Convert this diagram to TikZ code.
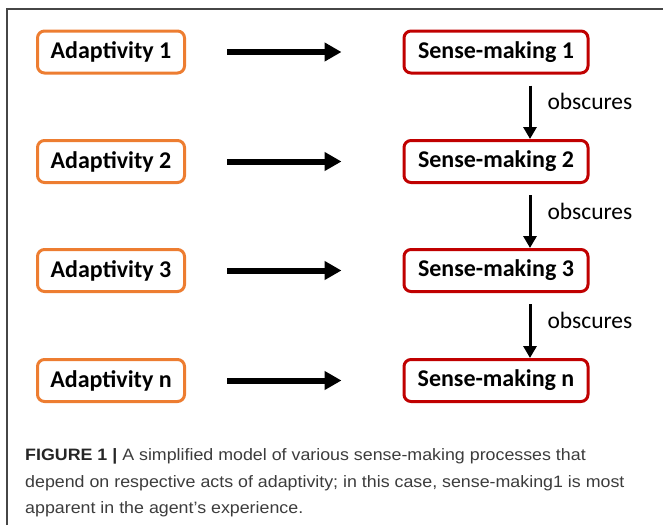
\documentclass[tikz,border=0pt]{standalone}
\usepackage{fontspec}
\setmainfont{Carlito}
\newfontfamily\capfont[FakeStretch=1.08]{Liberation Sans}
\usetikzlibrary{arrows.meta,positioning}
\definecolor{adaorange}{RGB}{237,125,49}
\definecolor{sensered}{RGB}{192,0,0}
\definecolor{capgray}{RGB}{60,60,60}
\definecolor{framegray}{RGB}{70,70,70}

\begin{document}
\begin{tikzpicture}[x=1pt,y=-1pt,
  adabox/.style={draw=adaorange,line width=3pt,rounded corners=7pt,minimum width=147pt,minimum height=42pt,inner sep=0pt,font=\bfseries\fontsize{24}{28}\selectfont},
  sensebox/.style={adabox,draw=sensered,minimum width=184pt},
  hor/.style={line width=6pt,-{Triangle[length=17pt,width=18pt]},shorten <=41pt,shorten >=61pt},
  obs/.style={line width=3pt,-{Triangle[length=12pt,width=13pt]},shorten <=11pt},
  obslabel/.style={midway,anchor=base west,xshift=16pt,yshift=-3pt,inner sep=0pt,font=\fontsize{23.5}{28}\selectfont}]
\useasboundingbox (0,0) rectangle (663,525);
\draw[line width=1.2pt,framegray] (7,525) -- (7,9) -- (663,9);

\node[adabox] (a1) at (111,52) {Adaptivity 1};
\node[adabox] (a2) at (111,161.5) {Adaptivity 2};
\node[adabox] (a3) at (111,270.5) {Adaptivity 3};
\node[adabox] (an) at (111,380.5) {Adaptivity n};

\node[sensebox] (s1) at (496,52) {Sense-making 1};
\node[sensebox] (s2) at (496,161.5) {Sense-making 2};
\node[sensebox] (s3) at (496,270.5) {Sense-making 3};
\node[sensebox] (sn) at (496,380.5) {Sense-making n};

\draw[hor] (a1) -- (s1);
\draw[hor] (a2) -- (s2);
\draw[hor] (a3) -- (s3);
\draw[hor] (an) -- (sn);

\draw[obs] ([xshift=34pt]s1.south) -- node[obslabel] {obscures} ([xshift=34pt]s2.north);
\draw[obs] ([xshift=34pt]s2.south) -- node[obslabel] {obscures} ([xshift=34pt]s3.north);
\draw[obs] ([xshift=34pt]s3.south) -- node[obslabel] {obscures} ([xshift=34pt]sn.north);

\node[anchor=north west,align=left,inner sep=0pt,text=capgray,font=\capfont\fontsize{16.5}{26.5}\selectfont] (cap) at (25,448.5)
  {\textbf{\color{black!85}FIGURE 1 |} A simplified model of various sense-making processes that\\
   depend on respective acts of adaptivity; in this case, sense-making1 is most\\
   apparent in the agent’s experience.};
\end{tikzpicture}
\end{document}
